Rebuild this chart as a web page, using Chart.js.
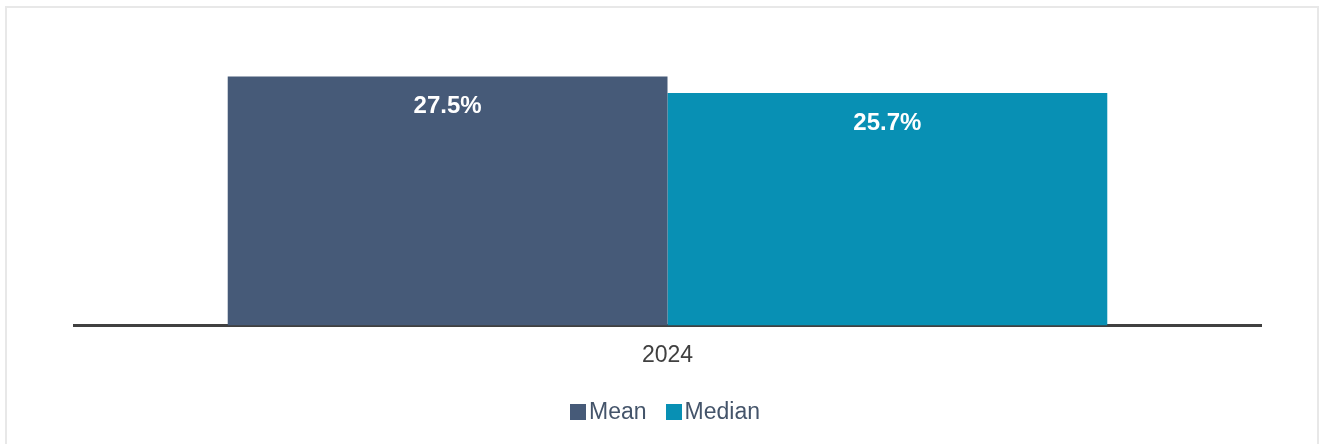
<!DOCTYPE html>
<html>
<head>
<meta charset="utf-8">
<script src="https://cdn.jsdelivr.net/npm/chart.js@4.4.1/dist/chart.umd.min.js"></script>
<style>
  html, body { margin: 0; padding: 0; background: #fff; overflow: hidden; }
  #wrap { position: relative; width: 1319px; height: 444px; }
  #frame {
    position: absolute; left: 5px; top: 6px; width: 1314px; height: 460px;
    border: 2px solid #e8e8e8; box-sizing: border-box; pointer-events: none;
  }
  #legend {
    position: absolute; left: 570px; top: 398px;
    display: flex; align-items: center; gap: 19px;
    font: 23px 'Liberation Sans', Arial, sans-serif; color: #44546a;
  }
  #legend .item { display: flex; align-items: center; }
  #legend .box { width: 16px; height: 16px; margin-right: 3px; }
</style>
</head>
<body>
<div id="wrap">
  <canvas id="chart" width="1319" height="444"></canvas>
  <div id="legend"></div>
  <div id="frame"></div>
</div>
<script>
// chart data
const categories = ["2024"];
const seriesNames = ["Mean", "Median"];
const meanValues = [27.5];
const medianValues = [25.7];
const seriesColors = ["#465a78", "#0890b4"];

// white bold value labels just inside the bar tops
const barLabels = {
  id: "barLabels",
  afterDatasetsDraw(chart) {
    const ctx = chart.ctx;
    ctx.save();
    ctx.font = "bold 24px 'Liberation Sans', Arial, sans-serif";
    ctx.fillStyle = "#ffffff";
    ctx.textAlign = "center";
    ctx.textBaseline = "middle";
    chart.data.datasets.forEach((ds, i) => {
      chart.getDatasetMeta(i).data.forEach((bar, j) => {
        ctx.fillText(ds.data[j].toFixed(1) + "%", bar.x, bar.y + 30);
      });
    });
    ctx.restore();
  }
};

const ctx = document.getElementById("chart").getContext("2d");
const chart = new Chart(ctx, {
  type: "bar",
  data: {
    labels: categories,
    datasets: [
      { label: seriesNames[0], data: meanValues, backgroundColor: seriesColors[0] },
      { label: seriesNames[1], data: medianValues, backgroundColor: seriesColors[1] },
    ],
  },
  options: {
    responsive: false,
    animation: false,
    layout: { padding: { left: 74, right: 58, top: 54, bottom: 59 } },
    datasets: {
      bar: { categoryPercentage: 0.741, barPercentage: 1.0, borderWidth: 0 },
    },
    plugins: {
      legend: { display: false },
      tooltip: { enabled: false },
    },
    scales: {
      x: {
        grid: { display: false, drawTicks: false },
        border: { display: true, color: "#404040", width: 3 },
        ticks: {
          padding: 16,
          color: "#404040",
          font: { family: "'Liberation Sans', Arial, sans-serif", size: 23 },
        },
      },
      y: {
        display: false,
        min: 0,
        max: 30,
      },
    },
  },
  plugins: [barLabels],
});

// legend built from the chart's own datasets
const legendEl = document.getElementById("legend");
chart.data.datasets.forEach((ds) => {
  const item = document.createElement("div");
  item.className = "item";
  const box = document.createElement("span");
  box.className = "box";
  box.style.background = ds.backgroundColor;
  item.appendChild(box);
  item.appendChild(document.createTextNode(ds.label));
  legendEl.appendChild(item);
});
</script>
</body>
</html>
